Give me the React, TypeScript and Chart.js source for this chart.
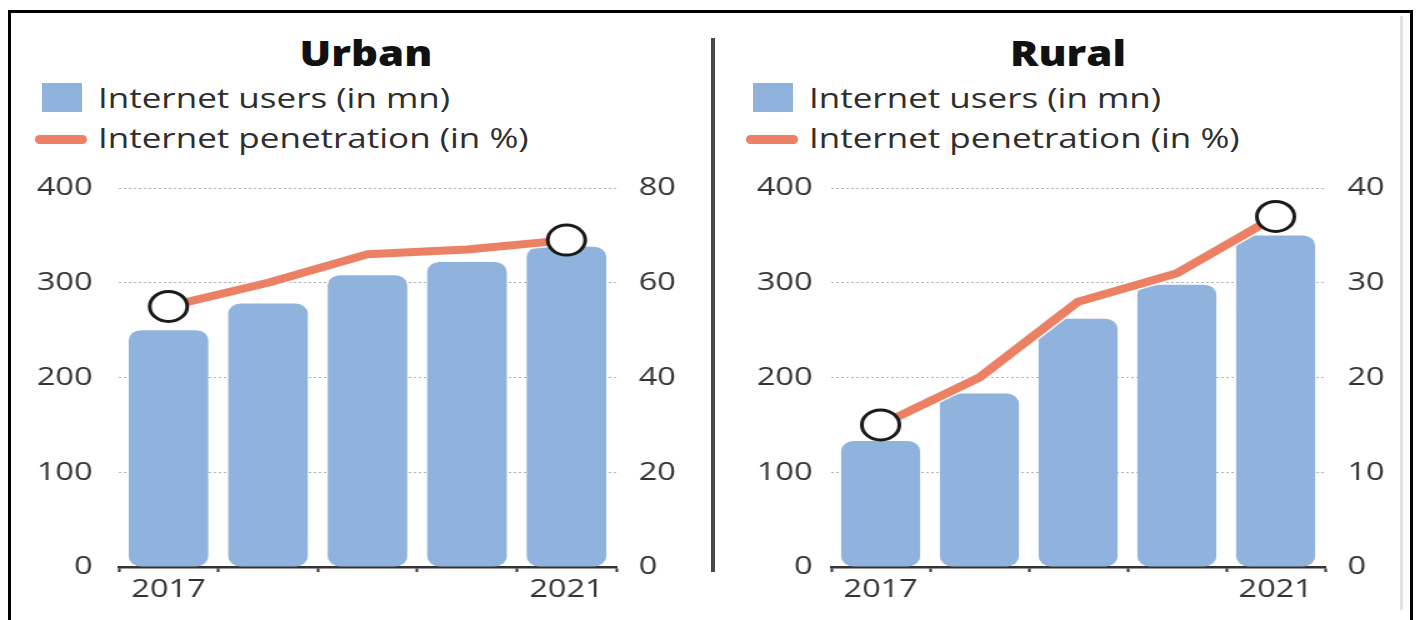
import React, { useEffect, useRef } from 'react';
import { Chart, registerables } from 'chart.js';

Chart.register(...registerables);

// ---- data ----
const years = ['2017', '2018', '2019', '2020', '2021'];
const urbanUsers = [250, 278, 308, 322, 338];
const urbanPenetration = [55, 60, 66, 67, 69];
const ruralUsers = [133, 183, 262, 298, 350];
const ruralPenetration = [15, 20, 28, 31, 37];
const usersTicks = [0, 100, 200, 300, 400];
const urbanPenTicks = [0, 20, 40, 60, 80];
const ruralPenTicks = [0, 10, 20, 30, 40];
const legendLabels = ['Internet users (in mn)', 'Internet penetration (in %)'];

const S = 1.25; // horizontal stretch of the reference
const FONT = "'Open Sans', 'Noto Sans', sans-serif";
const BAR = '#8FB3DC';
const LINE = '#EC8064';

type PanelProps = {
  users: number[];
  pen: number[];
  penTicks: number[];
  left: number;
  leftW: number;
  rightW: number;
  leftPad: number;
  rightPad: number;
};

function PanelChart(p: PanelProps) {
  const ref = useRef<HTMLCanvasElement | null>(null);
  useEffect(() => {
    if (!ref.current) return;
    const last = years.length - 1;
    const tickFont = { family: FONT, size: 26 };
    const chart = new Chart(ref.current, {
      type: 'bar',
      data: {
        labels: years,
        datasets: [
          {
            type: 'line',
            data: p.pen,
            yAxisID: 'y1',
            borderColor: LINE,
            borderWidth: 8,
            borderJoinStyle: 'round',
            borderCapStyle: 'round',
            tension: 0,
            pointRadius: (c: any) => (c.dataIndex === 0 || c.dataIndex === last ? 15 : 0),
            pointBackgroundColor: '#ffffff',
            pointBorderColor: '#1a1a1a',
            pointBorderWidth: 3,
            order: 1,
            clip: false,
          } as any,
          {
            type: 'line',
            data: p.pen,
            yAxisID: 'y1',
            borderColor: 'rgba(255,255,255,0.9)',
            borderWidth: 11,
            borderJoinStyle: 'round',
            tension: 0,
            pointRadius: 0,
            order: 2,
            clip: false,
          } as any,
          {
            type: 'bar',
            data: p.users,
            yAxisID: 'y',
            backgroundColor: BAR,
            borderRadius: 10,
            borderSkipped: false,
            barPercentage: 0.8,
            categoryPercentage: 1,
            order: 3,
          } as any,
        ],
      },
      options: {
        animation: false,
        responsive: true,
        maintainAspectRatio: false,
        layout: { padding: { top: 16, left: 0, right: 0, bottom: 0 } },
        plugins: { legend: { display: false }, tooltip: { enabled: false } },
        scales: {
          x: {
            offset: true,
            grid: {
              display: true,
              offset: true,
              drawOnChartArea: false,
              drawTicks: true,
              tickLength: 5,
              tickColor: '#333333',
              tickWidth: 2,
            },
            border: { display: true, color: '#333333', width: 2.5 },
            ticks: {
              autoSkip: false,
              maxRotation: 0,
              padding: 2,
              color: '#333333',
              font: tickFont,
              callback: (_v: any, i: number) => (i === 0 || i === last ? years[i] : ''),
            },
            afterFit: (s: any) => {
              s.height = 48;
              s.paddingLeft = 0;
              s.paddingRight = 0;
            },
          },
          y: {
            position: 'left',
            min: usersTicks[0],
            max: usersTicks[usersTicks.length - 1],
            ticks: { stepSize: usersTicks[1] - usersTicks[0], padding: p.leftPad, color: '#333333', font: tickFont },
            grid: {
              color: (c: any) => (c.tick && c.tick.value === 0 ? 'rgba(0,0,0,0)' : '#b3b3b3'),
              lineWidth: 1,
              drawTicks: false,
            },
            border: { display: false, dash: [2, 2] },
            afterFit: (s: any) => {
              s.width = p.leftW;
              s.paddingTop = 0;
              s.paddingBottom = 0;
            },
          },
          y1: {
            position: 'right',
            min: p.penTicks[0],
            max: p.penTicks[p.penTicks.length - 1],
            ticks: { stepSize: p.penTicks[1] - p.penTicks[0], padding: p.rightPad, color: '#333333', font: tickFont },
            grid: { drawOnChartArea: false, drawTicks: false },
            border: { display: false },
            afterFit: (s: any) => {
              s.width = p.rightW;
              s.paddingTop = 0;
              s.paddingBottom = 0;
            },
          },
        },
      } as any,
    });
    return () => chart.destroy();
  }, []);

  return (
    <div
      style={{
        position: 'absolute',
        left: p.left,
        top: 170,
        width: 544,
        height: 445,
        transform: `scaleX(${S})`,
        transformOrigin: '0 0',
      }}
    >
      <canvas ref={ref} />
    </div>
  );
}

function Legend({ x }: { x: number }) {
  const text: React.CSSProperties = {
    position: 'absolute',
    left: x + 98,
    fontFamily: FONT,
    fontSize: 28,
    lineHeight: '28px',
    color: '#2e2e2e',
    whiteSpace: 'nowrap',
    transform: `scaleX(${S})`,
    transformOrigin: '0 0',
  };
  return (
    <>
      <div style={{ position: 'absolute', left: x + 42, top: 83, width: 40, height: 29, background: BAR }} />
      <div style={{ ...text, top: 83 }}>{legendLabels[0]}</div>
      <div
        style={{ position: 'absolute', left: x + 35, top: 135, width: 52, height: 9, borderRadius: 5, background: LINE }}
      />
      <div style={{ ...text, top: 123 }}>{legendLabels[1]}</div>
    </>
  );
}

function Title({ cx, text }: { cx: number; text: string }) {
  return (
    <div
      style={{
        position: 'absolute',
        left: cx - 150,
        width: 300,
        top: 35,
        textAlign: 'center',
        fontFamily: FONT,
        fontWeight: 800,
        fontSize: 35,
        lineHeight: '35px',
        color: '#111111',
        transform: 'scaleX(1.2)',
        transformOrigin: '50% 0',
      }}
    >
      {text}
    </div>
  );
}

export default function App() {
  return (
    <div
      style={{
        position: 'fixed',
        left: 0,
        top: 0,
        width: 1417,
        height: 620,
        overflow: 'hidden',
        background: '#ffffff',
      }}
    >
      <div
        style={{
          position: 'absolute',
          left: 8,
          top: 10,
          width: 1405,
          height: 700,
          boxSizing: 'border-box',
          borderLeft: '3px solid #000',
          borderTop: '3px solid #000',
          borderRight: '3px solid #000',
        }}
      />
      <div style={{ position: 'absolute', left: 1400, top: 16, width: 3, height: 594, background: '#e2e2e2' }} />
      <div style={{ position: 'absolute', left: 711, top: 38, width: 4, height: 534, background: '#4a4a4a' }} />

      <Title cx={366} text="Urban" />
      <Title cx={1068} text="Rural" />
      <Legend x={0} />
      <Legend x={711} />

      <PanelChart
        users={urbanUsers}
        pen={urbanPenetration}
        penTicks={urbanPenTicks}
        left={20}
        leftW={79}
        rightW={67}
        leftPad={21}
        rightPad={18}
      />
      <PanelChart
        users={ruralUsers}
        pen={ruralPenetration}
        penTicks={ruralPenTicks}
        left={720}
        leftW={89}
        rightW={60}
        leftPad={15}
        rightPad={18}
      />
    </div>
  );
}
